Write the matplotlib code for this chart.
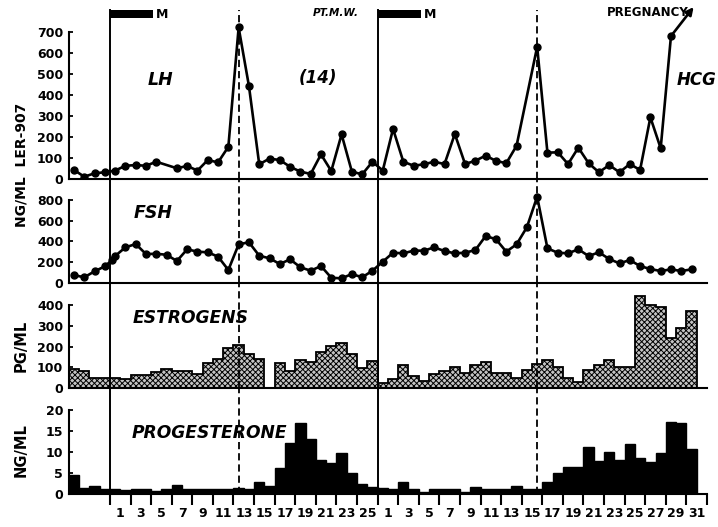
import numpy as np
import matplotlib
matplotlib.use('Agg')
import matplotlib.pyplot as plt
from matplotlib.patches import Rectangle

plt.rcParams['font.family'] = ['DejaVu Sans']
plt.rcParams['font.weight'] = 'bold'
plt.rcParams['hatch.linewidth'] = 0.7

# Day numbering: cycle 1 runs days 1-26 (negative days = before day 1),
# cycle 2 starts right after and runs days 1-31 (axis continues to day 32).
C1_LEN = 26
C2_AXIS = 32
MENSES = 4.2
LH_PEAK_DAY = [13, 16]

# LH (ng/ml LER-907)
lh_c1_days = [-3, -2, -1, 0, 1, 2, 3, 4, 5, 7, 8, 9, 10, 11, 12, 13, 14, 15,
              16, 17, 18, 19, 20, 21, 22, 23, 24, 25, 26]
lh_c1 = [43, 11, 27, 32, 40, 63, 66, 63, 82, 51, 62, 40, 90, 79, 153, 720, 442,
         70, 97, 90, 58, 35, 24, 117, 38, 212, 35, 22, 82]
lh_c2_days = [1, 2, 3, 4, 5, 6, 7, 8, 9, 10, 11, 12, 13, 14, 16, 17, 18, 19,
              20, 21, 22, 23, 24, 25, 26, 27, 28, 29]
lh_c2 = [40, 238, 82, 63, 70, 82, 71, 214, 71, 87, 111, 86, 75, 158, 628, 125,
         127, 71, 149, 75, 32, 66, 32, 71, 43, 293, 146, 679]

# FSH (ng/ml)
fsh_c1_days = [-3, -2, -1, 0, 0.7, 1, 2, 3, 4, 5, 6, 7, 8, 9, 10, 11, 12, 13,
               14, 15, 16, 17, 18, 19, 20, 21, 22, 23, 24, 25, 26]
fsh_c1 = [74, 52, 110, 158, 219, 258, 342, 374, 277, 280, 270, 210, 323, 300,
          294, 252, 123, 371, 391, 261, 236, 181, 226, 149, 116, 161, 48, 42,
          84, 52, 116]
fsh_c2_days = list(range(1, 32))
fsh_c2 = [203, 290, 284, 310, 310, 342, 306, 284, 290, 316, 452, 420, 300, 371,
          536, 832, 332, 290, 284, 323, 258, 294, 229, 187, 219, 161, 132, 113,
          129, 113, 129]

# Estrogens (pg/ml), cycle 1 days -3..26, cycle 2 days 1..31
est_c1 = [92, 84, 47, 47, 50, 42, 63, 63, 76, 90, 82, 82, 66, 119, 140, 192,
          205, 165, 142, np.nan, 119, 82, 135, 127, 172, 204, 216, 164, 95, 132]
est_c2 = [26, 42, 111, 58, 35, 66, 84, 103, 71, 111, 127, 74, 74, 47, 87, 116,
          135, 103, 47, 28, 87, 111, 135, 100, 100, 444, 401, 390, 240, 288, 369]

# Progesterone (ng/ml), same days as estrogens
prog_c1 = [4.5, 1.5, 1.9, 1.1, 1.3, 1.0, 1.1, 1.1, 0.8, 1.3, 2.1, 1.3, 1.3, 1.3,
           1.3, 1.3, 1.4, 1.1, 2.8, 2.0, 6.3, 12.1, 16.8, 13.1, 8.1, 7.3, 9.8,
           4.9, 2.3, 1.6]
prog_c2 = [1.5, 1.2, 2.9, 1.3, 0.5, 1.1, 1.1, 1.1, 0.5, 1.7, 1.3, 1.3, 1.3, 1.9,
           1.2, 1.2, 2.9, 5.1, 6.5, 6.5, 11.1, 7.9, 10.1, 8.1, 11.8, 8.6, 7.7,
           9.7, 17.2, 16.8, 10.7]
bar_c1_days = list(range(-3, C1_LEN + 1))
bar_c2_days = list(range(1, 32))


def centers(days, offset):
    return np.asarray(days, float) - 0.5 + offset


def lefts(days, offset):
    return np.asarray(days, float) - 1 + offset


lh_x = np.concatenate([centers(lh_c1_days, 0), centers(lh_c2_days, C1_LEN)])
lh_y = np.concatenate([lh_c1, lh_c2])
fsh_x = np.concatenate([centers(fsh_c1_days, 0), centers(fsh_c2_days, C1_LEN)])
fsh_y = np.concatenate([fsh_c1, fsh_c2])
bar_left = np.concatenate([lefts(bar_c1_days, 0), lefts(bar_c2_days, C1_LEN)])
est_y = np.concatenate([est_c1, est_c2]).astype(float)
prog_y = np.concatenate([prog_c1, prog_c2]).astype(float)

XMIN, XMAX = -4, C1_LEN + C2_AXIS

W, H = 718, 527
fig = plt.figure(figsize=(W / 100, H / 100), dpi=100)


def add_panel(top_px, bottom_px):
    left, right = 68.8, 707.0
    return fig.add_axes([left / W, 1 - bottom_px / H, (right - left) / W,
                         (bottom_px - top_px) / H])


ax_lh = add_panel(0, 179)
ax_fsh = add_panel(179, 282.7)
ax_est = add_panel(282.7, 388)
ax_pg = add_panel(388, 494)

panels = [
    (ax_lh, 850.6, [0, 100, 200, 300, 400, 500, 600, 700]),
    (ax_fsh, 1003, [0, 200, 400, 600, 800]),
    (ax_est, 507.5, [0, 100, 200, 300, 400]),
    (ax_pg, 25.2, [0, 5, 10, 15, 20]),
]
for ax, ytop, yt in panels:
    ax.set_xlim(XMIN, XMAX)
    ax.set_ylim(0, ytop)
    ax.patch.set_visible(False)
    for s in ['top', 'right']:
        ax.spines[s].set_visible(False)
    ax.spines['left'].set_bounds(0, yt[-1])
    ax.spines['left'].set_linewidth(1.5)
    ax.spines['bottom'].set_linewidth(1.5)
    ax.set_yticks(yt)
    ax.tick_params(axis='y', direction='in', length=3, width=1.3, pad=4,
                   labelsize=9)
    ax.set_xticks([])

# vertical cycle-start (solid) and LH-peak (dashed) lines through all panels
top_frac = 803 / 850.6
for ax in [ax_lh, ax_fsh, ax_est, ax_pg]:
    ymax = top_frac if ax is ax_lh else 1
    for start in [0, C1_LEN]:
        ax.axvline(start, ymax=ymax, color='black', lw=1.4, zorder=3)
    for start, pk in zip([0, C1_LEN], LH_PEAK_DAY):
        ax.axvline(start + pk - 0.5, ymax=ymax, color='black', lw=1.3,
                   dashes=(4, 2.2), zorder=3)

# LH
ax_lh.plot(lh_x, lh_y, '-o', color='black', lw=1.9, ms=5, zorder=4)
ax_lh.annotate('', xy=(56.7, 817), xytext=(lh_x[-1], lh_y[-1]),
               arrowprops=dict(arrowstyle='-|>', color='black', lw=1.9,
                               mutation_scale=11, shrinkA=0, shrinkB=0))
for start in [0, C1_LEN]:
    ax_lh.add_patch(Rectangle((start, 765), MENSES, 38, color='black', lw=0))
    ax_lh.text(start + MENSES + 0.9, 784, 'M', fontsize=9, ha='center',
               va='center')
ax_lh.text(4.9, 470, 'LH', fontsize=12.5, style='italic', ha='center',
           va='center')
ax_lh.text(20.2, 480, '(14)', fontsize=12, style='italic', ha='center',
           va='center')
ax_lh.text(21.9, 789, 'PT.M.W.', fontsize=7.5, style='italic', ha='center',
           va='center')
ax_lh.text(57.0, 470, 'HCG', fontsize=12, style='italic', ha='center',
           va='center')
ax_lh.text(56.2, 789, 'PREGNANCY', fontsize=8.5, ha='right', va='center')

# FSH
ax_fsh.plot(fsh_x, fsh_y, '-o', color='black', lw=1.9, ms=5, zorder=4,
            clip_on=False)
ax_fsh.text(4.2, 674, 'FSH', fontsize=12.5, style='italic', ha='center',
            va='center')


def step_fill(ax, left, vals, **kw):
    ok = np.flatnonzero(~np.isnan(vals))
    runs = np.split(ok, np.flatnonzero(np.diff(ok) > 1) + 1)
    for r in runs:
        edges = np.append(left[r], left[r[-1]] + 1)
        ax.stairs(vals[r], edges, baseline=0, fill=True, **kw)


step_fill(ax_est, bar_left, est_y, facecolor='#c4c4c4', edgecolor='black',
          hatch='xxxxxx', lw=1.3)
ax_est.text(7.8, 338, 'ESTROGENS', fontsize=12.3, style='italic', ha='center',
            va='center')

step_fill(ax_pg, bar_left, prog_y, facecolor='black', edgecolor='black', lw=1)
ax_pg.text(9.7, 14.5, 'PROGESTERONE', fontsize=12.3, style='italic',
           ha='center', va='center')

# day axis: ticks every two days, labels between ticks
ax_pg.set_xticks(np.arange(0, XMAX + 1, 2))
ax_pg.set_xticklabels([])
lab_c1 = list(range(1, C1_LEN, 2))
lab_c2 = list(range(1, 32, 2))
ax_pg.set_xticks([d for d in lab_c1] + [C1_LEN + d for d in lab_c2], minor=True)
ax_pg.set_xticklabels([str(d) for d in lab_c1 + lab_c2], minor=True)
ax_pg.tick_params(axis='x', which='major', direction='out', length=8, width=1.5)
ax_pg.tick_params(axis='x', which='minor', length=0, pad=9.5, labelsize=9)

# y-axis units
fig.text(22 / W, 1 - 165 / H, 'NG/ML  LER-907', rotation=90, fontsize=10,
         ha='center', va='center')
fig.text(21 / W, 1 - 346 / H, 'PG/ML', rotation=90, fontsize=10.5,
         ha='center', va='center')
fig.text(21 / W, 1 - 450 / H, 'NG/ML', rotation=90, fontsize=10.5,
         ha='center', va='center')

fig.savefig('out.png', dpi=100)
